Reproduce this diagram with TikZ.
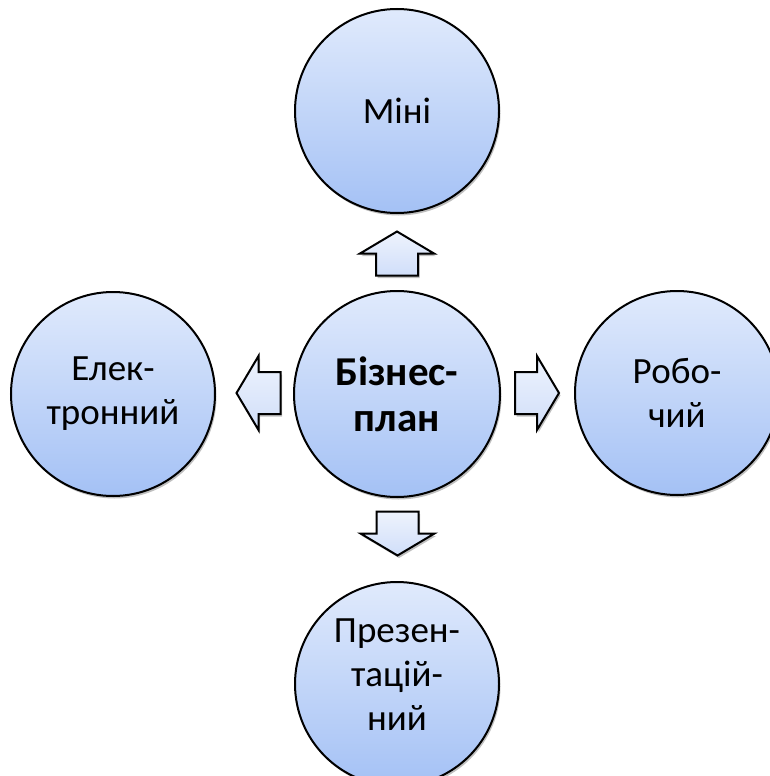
\documentclass[tikz,border=0pt]{standalone}
\usepackage{fontspec}
\setmainfont{Carlito}
\usetikzlibrary{shadows,calc}
\definecolor{cTop}{RGB}{224,234,252}
\definecolor{cBot}{RGB}{164,193,245}
\definecolor{aTop}{RGB}{238,243,253}
\definecolor{aBot}{RGB}{208,222,249}
\begin{document}
\begin{tikzpicture}[x=1pt,y=-1pt,
  bubble/.style={circle, draw=black, line width=2pt, minimum size=204pt, inner sep=0pt,
    top color=cTop, bottom color=cBot, align=center,
    font=\fontsize{37}{44}\selectfont,
    drop shadow={shadow xshift=1.5pt, shadow yshift=-2.5pt, opacity=0.25, fill=black}},
  hub/.style={bubble, minimum size=206pt, font=\fontsize{41}{46}\selectfont\bfseries},
  barrow/.style={draw=black, line width=2pt, line join=miter, top color=aTop, bottom color=aBot,
    drop shadow={shadow xshift=1.5pt, shadow yshift=-2.5pt, opacity=0.25, fill=black}}]
\useasboundingbox (0,0) rectangle (770,776);
\clip (0,0) rectangle (770,776);
\node[hub] (c) at (397,394) {Бізнес-\\план};
\node[bubble] (t) at (397,111) {Міні};
\node[bubble] (l) at (113,394) {Елек-\\тронний};
\node[bubble] (r) at (677,393) {Робо-\\чий};
\node[bubble] (b) at (397,684) {Презен-\\тацій-\\ний\rule[-18pt]{0pt}{18pt}};
\coordinate (au) at (397,253.5);
\coordinate (ad) at (397.5,533.5);
\coordinate (al) at (258.5,393);
\coordinate (ar) at (537,393);
\draw[barrow] (au) ++(-21,22) -- ++(0,-22) -- ++(-16,0) -- ++(37,-22) -- ++(37,22) -- ++(-16,0) -- ++(0,22) -- cycle;
\draw[barrow] (ad) ++(-21,-22) -- ++(0,22) -- ++(-16,0) -- ++(37,22) -- ++(37,-22) -- ++(-16,0) -- ++(0,-22) -- cycle;
\draw[barrow] (al) ++(22,-21) -- ++(-22,0) -- ++(0,-16) -- ++(-22,37) -- ++(22,37) -- ++(0,-16) -- ++(22,0) -- cycle;
\draw[barrow] (ar) ++(-22,-21) -- ++(22,0) -- ++(0,-16) -- ++(22,37) -- ++(-22,37) -- ++(0,-16) -- ++(-22,0) -- cycle;
\end{tikzpicture}
\end{document}
